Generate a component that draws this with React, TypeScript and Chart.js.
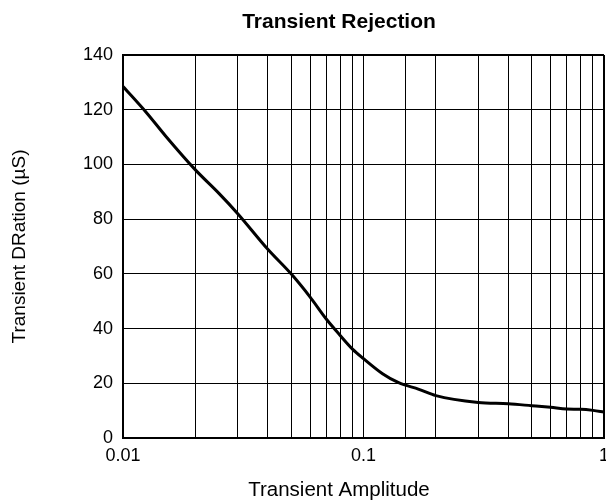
import React, { useEffect, useRef } from "react";
import { Chart, registerables } from "chart.js";

Chart.register(...registerables);

const amplitudes = [0.01, 0.0125, 0.015, 0.02, 0.025, 0.03, 0.04, 0.05, 0.06, 0.07, 0.08, 0.09, 0.1, 0.12, 0.14, 0.17, 0.2, 0.3, 0.4, 0.5, 0.6, 0.7, 0.8, 0.9, 1];
const durations = [128.5, 119, 110.5, 98, 89.5, 82, 69, 60, 51.5, 43.5, 37.5, 32.5, 29, 23.5, 20.2, 17.8, 15.5, 13, 12.5, 11.8, 11.2, 10.6, 10.5, 10.1, 9.5];
const xTickLabels = ["0.01", "0.1", "1"];
const yTickValues = [0, 20, 40, 60, 80, 100, 120, 140];

const titleText = "Transient Rejection";
const xTitle = "Transient Amplitude";
const yTitle = "Transient DRation (\u00b5S)";

const FONT = "'Liberation Sans', Arial, Helvetica, sans-serif";

export default function App() {
  const ref = useRef<HTMLCanvasElement | null>(null);

  useEffect(() => {
    if (!ref.current) return;
    const chart = new Chart(ref.current, {
      type: "line",
      data: {
        datasets: [
          {
            data: amplitudes.map((x, i) => ({ x, y: durations[i] })),
            borderColor: "#000",
            borderWidth: 3,
            pointRadius: 0,
            fill: false,
            cubicInterpolationMode: "monotone",
          },
        ],
      },
      options: {
        animation: false,
        responsive: true,
        maintainAspectRatio: false,
        layout: { padding: { left: 74, right: 2, top: 0, bottom: 0 } },
        plugins: {
          legend: { display: false },
          tooltip: { enabled: false },
          title: {
            display: true,
            text: titleText,
            color: "#000",
            font: { family: FONT, size: 21, weight: "bold", lineHeight: 1.2 },
            padding: { top: 9.4, bottom: 20.4 },
          },
          subtitle: {
            display: true,
            position: "bottom",
            text: xTitle,
            color: "#000",
            font: { family: FONT, size: 20.5, weight: "normal", lineHeight: 1.2 },
            padding: { top: 5, bottom: 0.7 },
          },
        },
        scales: {
          x: {
            type: "logarithmic",
            min: 0.01,
            max: 1,
            border: { display: true, color: "#000", width: 2 },
            grid: {
              color: "#000",
              lineWidth: (c: any) => (Math.abs(c.tick?.value - 1) < 1e-9 ? 2 : 1),
              drawTicks: false,
            },
            ticks: {
              color: "#000",
              font: { family: FONT, size: 18, lineHeight: 1.2 },
              padding: 7.2,
              autoSkip: false,
              maxRotation: 0,
              minRotation: 0,
              callback: (v: any) => {
                const n = Number(v);
                const hit = xTickLabels.find((l) => Math.abs(parseFloat(l) - n) < 1e-9);
                return hit ?? "";
              },
            },
            afterFit: (s: any) => {
              s.height = 34.7;
              s.paddingLeft = 0;
              s.paddingRight = 0;
            },
          },
          y: {
            min: 0,
            max: 140,
            border: { display: true, color: "#000", width: 2 },
            grid: {
              color: "#000",
              lineWidth: (c: any) => (c.tick?.value === 140 ? 2 : 1),
              drawTicks: false,
            },
            afterBuildTicks: (s: any) => {
              s.ticks = yTickValues.map((v) => ({ value: v }));
            },
            ticks: {
              color: "#000",
              font: { family: FONT, size: 18, lineHeight: 1.2 },
              padding: 10,
            },
            title: {
              display: true,
              text: yTitle,
              color: "#000",
              font: { family: FONT, size: 19, lineHeight: 1.2 },
              padding: { top: -65.4, bottom: 0 },
            },
            afterFit: (s: any) => {
              s.width = 49;
              s.paddingTop = 0;
              s.paddingBottom = 0;
            },
          },
        },
      } as any,
    });
    return () => chart.destroy();
  }, []);

  return (
    <div style={{ position: "fixed", left: 0, top: 0, width: 606, height: 503, background: "#fff" }}>
      <canvas ref={ref} />
    </div>
  );
}
